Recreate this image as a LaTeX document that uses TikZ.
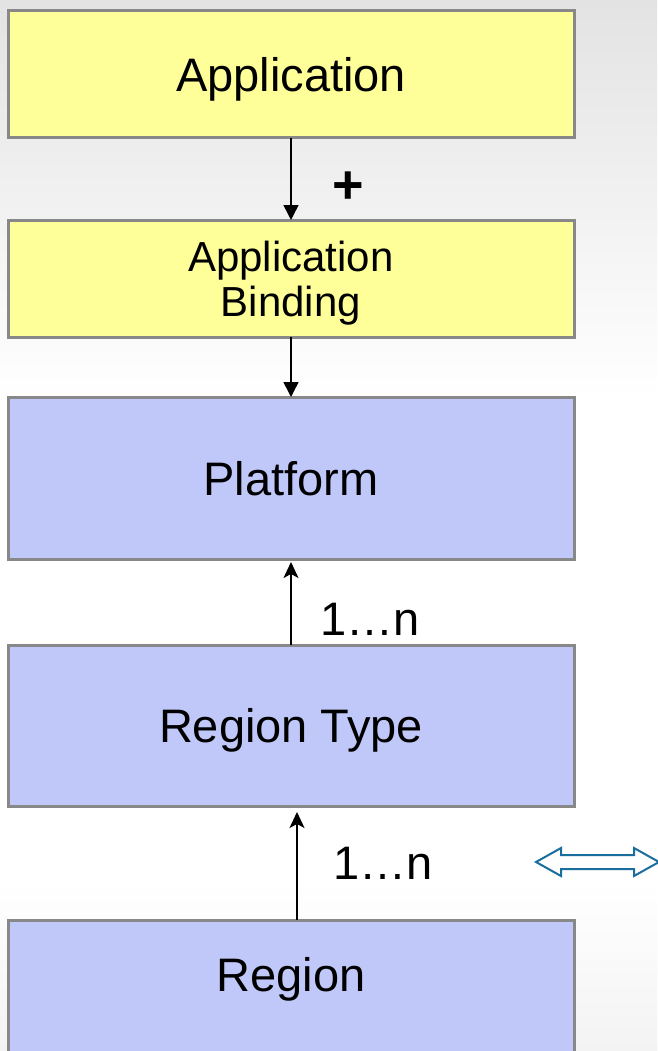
\documentclass[tikz,border=0pt]{standalone}
\usepackage{fontspec}
\setmainfont{Liberation Sans}
\usetikzlibrary{positioning, arrows.meta}

\definecolor{boxgray}{HTML}{888888}
\definecolor{appyellow}{HTML}{FFFF99}
\definecolor{regblue}{HTML}{C0C8F9}
\definecolor{bggray}{HTML}{E3E3E3}
\definecolor{bgbottom}{HTML}{F3F3F3}
\definecolor{linkblue}{HTML}{1A6E9E}

\begin{document}
\begin{tikzpicture}[x=1pt, y=-1pt, node distance={60pt},
  main/.style = {draw=boxgray, line width=3pt, minimum width=566pt, outer sep=0pt, inner sep=0pt, align=center, text height=34pt, text depth=0pt, font=\fontsize{47}{52}\selectfont},
  yel/.style = {fill=appyellow},
  blu/.style = {fill=regblue},
  lbl/.style = {font=\fontsize{47}{52}\selectfont}]
\useasboundingbox (0,0) rectangle (657,1051);
\shade[top color=bggray, bottom color=white] (0,0) rectangle (657,400);
\shade[top color=white, bottom color=bgbottom] (0,880) rectangle (657,1051);

\node[main, yel, minimum height=127pt] (1) at (291,74.5) {Application};
\node[main, yel, minimum height=117pt, text height=75pt, text depth=0pt, font=\fontsize{42}{45}\selectfont] (2) [below=82pt of 1] {Application\\Binding};
\node[main, blu, minimum height=162pt] (3) [below=60pt of 2] {Platform};
\node[main, blu, minimum height=161pt] (4) [below=86pt of 3] {Region Type};
\node[main, blu, text height=71pt, text depth=91pt] (5) [below=114pt of 4] {Region};

\draw[line width=1.5pt, -{Triangle[length=15pt, width=15pt]}] (1) -- node[pos=0.6, xshift=57pt, font=\fontsize{54}{54}\bfseries] {+} (2);
\draw[line width=1.5pt, -{Triangle[length=15pt, width=15pt]}] (2) -- (3);
\draw[line width=1.5pt, -{Stealth[length=16pt, width=15pt, inset=4pt]}, shorten >=3pt] (4) -- node[lbl, pos=0.3, xshift=79pt] {1…n} (3);
\draw[line width=1.5pt, -{Stealth[length=16pt, width=15pt, inset=4pt]}, shorten >=6pt] ([xshift=6pt]5.north) -- node[lbl, pos=0.5, xshift=86pt] {1…n} ([xshift=6pt]4.south);

% two-way link arrow
\draw[linkblue, line width=2pt, fill=white, line join=miter]
  (536,862) -- (561,848) -- (561,855) -- (634,855) -- (634,848) -- (659,862)
  -- (634,876) -- (634,869) -- (561,869) -- (561,876) -- cycle;
\end{tikzpicture}
\end{document}
